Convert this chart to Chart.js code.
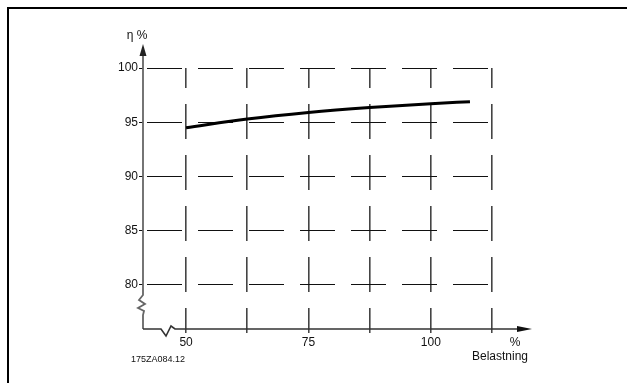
<!DOCTYPE html>
<html>
<head>
<meta charset="utf-8">
<script src="https://cdn.jsdelivr.net/npm/chart.js@4/dist/chart.umd.min.js"></script>
<style>
  html, body { margin: 0; padding: 0; background: #fff; }
  #wrap { position: relative; width: 627px; height: 383px; }
  canvas { position: absolute; left: 0; top: 0; }
</style>
</head>
<body>
<div id="wrap"><canvas id="c" width="627" height="383"></canvas></div>
<script>
// ---- data ----
const loadPercent = [50, 62.5, 75, 87.5, 100, 108];
const efficiency  = [94.5, 95.3, 95.9, 96.35, 96.7, 96.9];
const xGridValues = [50, 62.5, 75, 87.5, 100, 112.5];
const xTickLabels = { 50: '50', 75: '75', 100: '100' };
const yGridValues = [80, 85, 90, 95, 100];
const yAxisTitle = 'η %';
const xAxisUnit = '%';
const xAxisTitle = 'Belastning';
const drawingCode = '175ZA084.12';

const FONT = "'Liberation Sans', Arial, sans-serif";

const decor = {
  id: 'decor',
  afterDraw(chart) {
    const ctx = chart.ctx;
    const xs = chart.scales.x, ys = chart.scales.y;
    const ax = xs.left;            // y axis position
    const ay = ys.bottom;          // x axis position
    ctx.save();
    // frame (top + left)
    ctx.fillStyle = '#000';
    ctx.fillRect(7, 7, 620, 2);
    ctx.fillRect(7, 7, 2, 376);

    // y axis with break
    ctx.strokeStyle = '#666';
    ctx.lineWidth = 1.8;
    ctx.lineJoin = 'miter';
    ctx.beginPath();
    ctx.moveTo(ax, ys.top - 13);
    ctx.lineTo(ax, ay - 34);
    ctx.lineTo(ax - 4, ay - 29);
    ctx.lineTo(ax + 2, ay - 25);
    ctx.lineTo(ax - 5, ay - 21);
    ctx.lineTo(ax + 1, ay - 18);
    ctx.lineTo(ax, ay - 14);
    ctx.lineTo(ax, ay);
    ctx.stroke();
    // y arrow
    ctx.fillStyle = '#222';
    ctx.beginPath();
    ctx.moveTo(ax, ys.top - 24);
    ctx.lineTo(ax - 3.5, ys.top - 12);
    ctx.lineTo(ax + 3.5, ys.top - 12);
    ctx.closePath();
    ctx.fill();

    // x axis with break
    ctx.strokeStyle = '#333';
    ctx.lineWidth = 1.6;
    ctx.beginPath();
    ctx.moveTo(ax, ay);
    ctx.lineTo(ax + 18, ay);
    ctx.lineTo(ax + 23, ay + 7);
    ctx.lineTo(ax + 28, ay - 3);
    ctx.lineTo(ax + 32, ay);
    ctx.lineTo(xs.right + 28, ay);
    ctx.stroke();
    // x arrow
    ctx.fillStyle = '#111';
    ctx.beginPath();
    ctx.moveTo(xs.right + 40, ay);
    ctx.lineTo(xs.right + 25, ay - 3);
    ctx.lineTo(xs.right + 25, ay + 3);
    ctx.closePath();
    ctx.fill();

    // texts
    ctx.fillStyle = '#111';
    ctx.font = '12px ' + FONT;
    ctx.textBaseline = 'middle';
    ctx.textAlign = 'center';
    ctx.fillText(yAxisTitle, ax - 6, ys.top - 32);
    ctx.fillText(xAxisUnit, xs.right + 23, ay + 14);
    ctx.fillText(xAxisTitle, xs.right + 8, ay + 28);
    ctx.font = '9px ' + FONT;
    ctx.fillText(drawingCode, ax + 15, ay + 31);
    ctx.restore();
  }
};

new Chart(document.getElementById('c'), {
  type: 'line',
  data: {
    datasets: [{
      data: loadPercent.map((x, i) => ({ x: x, y: efficiency[i] })),
      borderColor: '#000',
      borderWidth: 3,
      pointRadius: 0,
      tension: 0.35,
      cubicInterpolationMode: 'monotone',
      fill: false
    }]
  },
  options: {
    responsive: false,
    animation: false,
    events: [],
    layout: { padding: { left: 0, right: 135, top: 68, bottom: 0 } },
    plugins: { legend: { display: false }, tooltip: { enabled: false } },
    scales: {
      x: {
        type: 'linear',
        min: 41.2,
        max: 112.5,
        afterFit(s) { s.height = 54; },
        afterBuildTicks(s) { s.ticks = xGridValues.map(v => ({ value: v })); },
        border: { display: false, dash: [35, 16], dashOffset: 15 },
        grid: { color: '#444', lineWidth: 1.6, tickLength: 4, tickColor: '#333', tickWidth: 1.4 },
        ticks: {
          autoSkip: false,
          maxRotation: 0,
          padding: 2,
          color: '#111',
          font: { family: FONT, size: 12 },
          callback: (v) => xTickLabels[v] || ''
        }
      },
      y: {
        type: 'linear',
        min: 75.94,
        max: 100,
        afterFit(s) { s.width = 143; },
        afterBuildTicks(s) { s.ticks = yGridValues.map(v => ({ value: v })); },
        border: { display: false, dash: [35, 16], dashOffset: 47 },
        grid: { color: '#111', lineWidth: 1, tickLength: 4, tickColor: '#111' },
        ticks: {
          padding: 1,
          color: '#111',
          font: { family: FONT, size: 12 },
          callback: (v) => String(v)
        }
      }
    }
  },
  plugins: [decor]
});
</script>
</body>
</html>
